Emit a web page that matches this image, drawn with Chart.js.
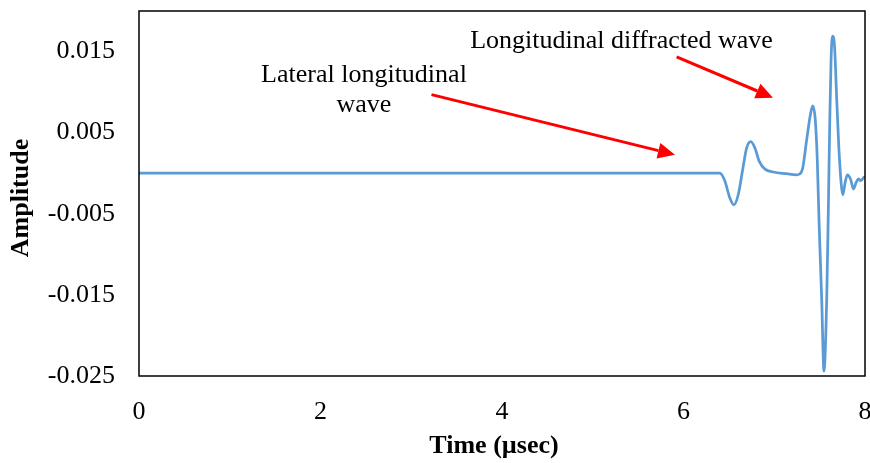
<!DOCTYPE html>
<html>
<head>
<meta charset="utf-8">
<script src="https://cdn.jsdelivr.net/npm/chart.js@4.4.0/dist/chart.umd.min.js"></script>
<style>
	html, body { margin: 0; padding: 0; background: #fff; }
	canvas { display: block; }
</style>
</head>
<body>
<canvas id="waveChart" width="870" height="463"></canvas>
<script>
// signal samples (time in µsec, amplitude)
const timeUs = [0, 6.40, 6.457, 6.505, 6.555, 6.603, 6.658, 6.695, 6.743, 6.787, 6.835, 6.898, 6.99, 7.135, 7.245, 7.28, 7.313, 7.357, 7.401, 7.424, 7.452, 7.474, 7.493, 7.523, 7.548, 7.578, 7.596, 7.612, 7.626, 7.642, 7.664, 7.69, 7.719, 7.756, 7.78, 7.806, 7.843, 7.872, 7.901, 7.927, 7.953, 7.989, 8.0];
const amplitude = [0, 0, -0.001, -0.00286, -0.0039, -0.00265, 0.00084, 0.0031, 0.0039, 0.0031, 0.00146, 0.0005, 0.00015, -0.00006, -0.0002, -0.0001, 0.0006, 0.0041, 0.0074, 0.0083, 0.0066, 0.0017, -0.0057, -0.0156, -0.0244, -0.0156, -0.0045, 0.0066, 0.014, 0.0169, 0.0157, 0.0087, 0.0017, -0.00266, -0.0012, -0.0002, -0.0008, -0.00195, -0.0012, -0.0007, -0.0009, -0.0005, -0.0004];

const xTicks = [0, 2, 4, 6, 8];
const yTicks = [-0.025, -0.015, -0.005, 0.005, 0.015];
const xTitle = 'Time (µsec)';
const yTitle = 'Amplitude';

// callouts, anchored in data units
const labelTexts = [['Lateral longitudinal', 'wave'], ['Longitudinal diffracted wave']];
const labelAnchors = [[2.479, 0.0113], [5.317, 0.0155]];
const arrowFrom = [[3.223, 0.00969], [5.924, 0.01435]];
const arrowTo = [[5.906, 0.00228], [6.986, 0.00932]];

const serif = '"Liberation Serif", "Times New Roman", serif';

const calloutPlugin = {
	id: 'callouts',
	afterDraw(chart) {
		const { ctx, chartArea: a, scales: { x, y } } = chart;
		ctx.save();
		// plot area frame
		ctx.strokeStyle = '#000';
		ctx.lineWidth = 1.5;
		ctx.strokeRect(a.left, a.top, a.right - a.left, a.bottom - a.top);

		// axis titles (Excel centres them slightly differently from Chart.js)
		ctx.fillStyle = '#000';
		ctx.font = 'bold 26px ' + serif;
		ctx.textAlign = 'center';
		ctx.textBaseline = 'middle';
		ctx.fillText(xTitle, 494, 446);
		ctx.save();
		ctx.translate(21, 198);
		ctx.rotate(-Math.PI / 2);
		ctx.fillText(yTitle, 0, 0);
		ctx.restore();

		ctx.font = '26px ' + serif;
		ctx.textBaseline = 'alphabetic';
		labelTexts.forEach((lines, i) => {
			const px = x.getPixelForValue(labelAnchors[i][0]);
			const py = y.getPixelForValue(labelAnchors[i][1]);
			lines.forEach((t, j) => ctx.fillText(t, px, py + j * 30));
		});

		ctx.strokeStyle = '#ff0000';
		ctx.fillStyle = '#ff0000';
		ctx.lineWidth = 3;
		arrowFrom.forEach((f, i) => {
			const x0 = x.getPixelForValue(f[0]), y0 = y.getPixelForValue(f[1]);
			const x1 = x.getPixelForValue(arrowTo[i][0]), y1 = y.getPixelForValue(arrowTo[i][1]);
			const ang = Math.atan2(y1 - y0, x1 - x0);
			const len = 17, hw = 8;
			const bx = x1 - len * Math.cos(ang), by = y1 - len * Math.sin(ang);
			ctx.beginPath();
			ctx.moveTo(x0, y0);
			ctx.lineTo(bx, by);
			ctx.stroke();
			ctx.beginPath();
			ctx.moveTo(x1, y1);
			ctx.lineTo(bx + hw * Math.sin(ang), by - hw * Math.cos(ang));
			ctx.lineTo(bx - hw * Math.sin(ang), by + hw * Math.cos(ang));
			ctx.closePath();
			ctx.fill();
		});
		ctx.restore();
	}
};

new Chart(document.getElementById('waveChart').getContext('2d'), {
	type: 'line',
	data: {
		datasets: [{
			data: timeUs.map((t, i) => ({ x: t, y: amplitude[i] })),
			borderColor: '#5b9bd5',
			borderWidth: 2.75,
			pointRadius: 0,
			cubicInterpolationMode: 'monotone',
			fill: false
		}]
	},
	options: {
		responsive: false,
		animation: false,
		layout: { padding: { top: 11, right: 5, left: 0, bottom: 0 } },
		plugins: { legend: { display: false }, tooltip: { enabled: false } },
		scales: {
			x: {
				type: 'linear', min: 0, max: 8,
				grid: { display: false, drawTicks: false },
				border: { display: false },
				afterFit: s => { s.height = 87; s.paddingLeft = 0; s.paddingRight = 0; },
				afterBuildTicks: s => { s.ticks = xTicks.map(v => ({ value: v })); },
				ticks: { color: '#000', padding: 21, maxRotation: 0, font: { family: serif, size: 26 }, callback: v => String(v) }
			},
			y: {
				type: 'linear', min: -0.025, max: 0.02,
				grid: { display: false, drawTicks: false },
				border: { display: false },
				afterFit: s => { s.width = 139; s.paddingTop = 0; s.paddingBottom = 0; },
				afterBuildTicks: s => { s.ticks = yTicks.map(v => ({ value: v })); },
				ticks: { color: '#000', padding: 24, font: { family: serif, size: 26 }, callback: v => v.toFixed(3) }
			}
		}
	},
	plugins: [calloutPlugin]
});
</script>
</body>
</html>
